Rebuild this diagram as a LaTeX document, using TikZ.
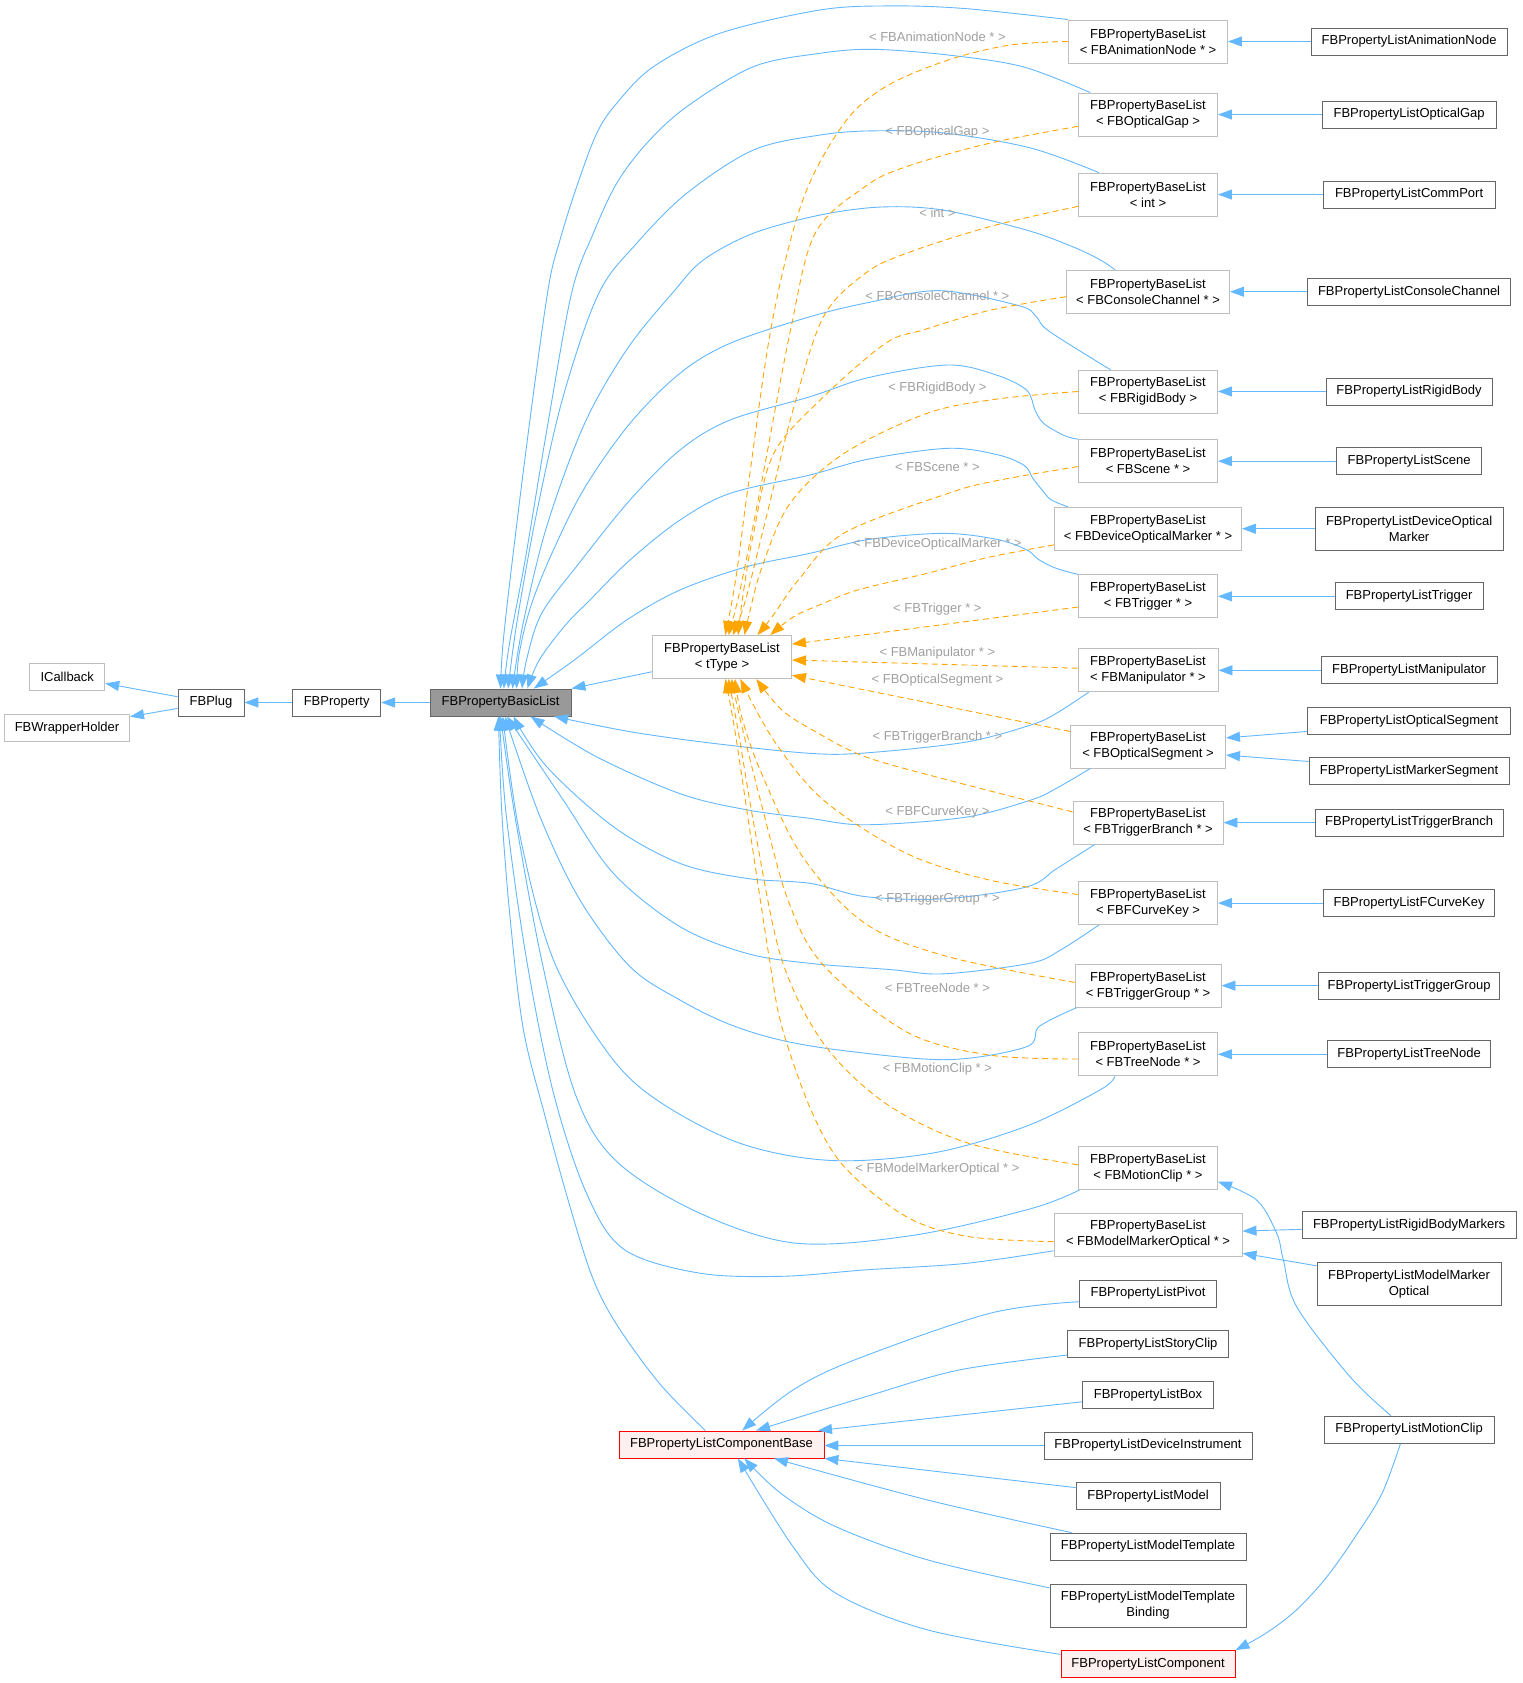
\documentclass[tikz,border=0pt]{standalone}
\usepackage{fontspec}
\setmainfont{Liberation Sans}
\usetikzlibrary{arrows.meta,calc}
\definecolor{eblue}{HTML}{63B8FF}
\definecolor{eorange}{HTML}{FFA500}
\definecolor{lgray}{HTML}{BFBFBF}
\definecolor{dgray}{HTML}{666666}
\definecolor{basicfill}{HTML}{999999}
\definecolor{redb}{HTML}{FF0000}
\definecolor{redfill}{HTML}{FFF0F0}
\definecolor{lbltext}{HTML}{A0A0A0}
\newcommand\fsz{\fontsize{13pt}{16pt}\selectfont}
\tikzset{
 nb/.style={draw=#1, fill=white, line width=0.9pt, minimum height=27pt, inner xsep=3pt, inner ysep=2pt, align=center, font=\fsz},
 gbox/.style={nb=lgray},
 dbox/.style={nb=dgray},
 rbox/.style={nb=redb, fill=redfill},
 tbox/.style={nb=lgray, minimum height=43pt},
 dboxt/.style={nb=dgray, minimum height=43pt},
 inh/.style={draw=eblue, line width=0.9pt, -{Triangle[length=14pt,width=10pt]}},
 tpl/.style={draw=eorange, line width=0.9pt, dash pattern=on 6pt off 4pt, -{Triangle[length=14pt,width=10pt]}},
 lbl/.style={font=\fsz, text=lbltext, inner sep=0pt},
 sm/.style={smooth, tension=0.55},
}
\begin{document}
\begin{tikzpicture}[x=1.0725pt,y=-1.0725pt]
\useasboundingbox (0,0) rectangle (1419.1,1569.2);
\fill[white] (0,0) rectangle (1419.1,1569.2);

% ---- left chain
\node[gbox, minimum width=75pt] (icb) at (62.7,631.2) {ICallback};
\node[gbox, minimum width=125pt] (wh) at (62.5,678.8) {FBWrapperHolder};
\node[dbox, minimum width=66pt] (plug) at (196.7,655) {FBPlug};
\node[dbox, minimum width=88pt] (prop) at (313.9,655) {FBProperty};
\node[dbox, fill=basicfill, minimum width=141pt] (bl) at (466.7,655) {FBPropertyBasicList};
\node[tbox, minimum width=139pt] (tt) at (673.2,612.6) {FBPropertyBaseList\\< tType >};

% ---- template instances
\node[tbox, minimum width=159pt] (b1) at (1070.4,38.7) {FBPropertyBaseList\\< FBAnimationNode * >};
\node[tbox, minimum width=139pt] (b2) at (1070.4,106.8) {FBPropertyBaseList\\< FBOpticalGap >};
\node[tbox, minimum width=139pt] (b3) at (1070.4,181.4) {FBPropertyBaseList\\< int >};
\node[tbox, minimum width=163pt] (b4) at (1070.4,272) {FBPropertyBaseList\\< FBConsoleChannel * >};
\node[tbox, minimum width=139pt] (b5) at (1070.4,365) {FBPropertyBaseList\\< FBRigidBody >};
\node[tbox, minimum width=139pt] (b6) at (1070.4,430) {FBPropertyBaseList\\< FBScene * >};
\node[tbox, minimum width=187pt] (b7) at (1070.4,493) {FBPropertyBaseList\\< FBDeviceOpticalMarker * >};
\node[tbox, minimum width=139pt] (b8) at (1070.4,556) {FBPropertyBaseList\\< FBTrigger * >};
\node[tbox, minimum width=140pt] (b9) at (1070.4,625) {FBPropertyBaseList\\< FBManipulator * >};
\node[tbox, minimum width=155pt] (b10) at (1070.4,696) {FBPropertyBaseList\\< FBOpticalSegment >};
\node[tbox, minimum width=150pt] (b11) at (1070.4,767) {FBPropertyBaseList\\< FBTriggerBranch * >};
\node[tbox, minimum width=139pt] (b12) at (1070.4,842) {FBPropertyBaseList\\< FBFCurveKey >};
\node[tbox, minimum width=146pt] (b13) at (1070.4,919) {FBPropertyBaseList\\< FBTriggerGroup * >};
\node[tbox, minimum width=139pt] (b14) at (1070.4,983) {FBPropertyBaseList\\< FBTreeNode * >};
\node[tbox, minimum width=139pt] (b15) at (1070.4,1089) {FBPropertyBaseList\\< FBMotionClip * >};
\node[tbox, minimum width=188pt] (b16) at (1070.4,1151) {FBPropertyBaseList\\< FBModelMarkerOptical * >};

% ---- right column
\node[dbox, minimum width=196pt] (l1) at (1313.8,38.7) {FBPropertyListAnimationNode};
\node[dbox, minimum width=174pt] (l2) at (1313.8,106.8) {FBPropertyListOpticalGap};
\node[dbox, minimum width=172pt] (l3) at (1313.8,181.4) {FBPropertyListCommPort};
\node[dbox, minimum width=203pt] (l4) at (1313.8,272) {FBPropertyListConsoleChannel};
\node[dbox, minimum width=166pt] (l5) at (1313.8,365) {FBPropertyListRigidBody};
\node[dbox, minimum width=145pt] (l6) at (1313.8,430) {FBPropertyListScene};
\node[dboxt, minimum width=188pt] (l7) at (1313.8,493) {FBPropertyListDeviceOptical\\Marker};
\node[dbox, minimum width=148pt] (l8) at (1313.8,556) {FBPropertyListTrigger};
\node[dbox, minimum width=176pt] (l9) at (1313.8,625) {FBPropertyListManipulator};
\node[dbox, minimum width=203pt] (l10a) at (1313.8,672) {FBPropertyListOpticalSegment};
\node[dbox, minimum width=200pt] (l10b) at (1313.8,719) {FBPropertyListMarkerSegment};
\node[dbox, minimum width=188pt] (l11) at (1313.8,767) {FBPropertyListTriggerBranch};
\node[dbox, minimum width=171pt] (l12) at (1313.8,842) {FBPropertyListFCurveKey};
\node[dbox, minimum width=181pt] (l13) at (1313.8,919) {FBPropertyListTriggerGroup};
\node[dbox, minimum width=163pt] (l14) at (1313.8,983) {FBPropertyListTreeNode};
\node[dbox, minimum width=214pt] (l16a) at (1313.8,1142.2) {FBPropertyListRigidBodyMarkers};
\node[dboxt, minimum width=184pt] (l16b) at (1313.8,1197.2) {FBPropertyListModelMarker\\Optical};
\node[dbox, minimum width=170pt] (lmc) at (1313.8,1332.9) {FBPropertyListMotionClip};

% ---- bottom column
\node[rbox, minimum width=205pt] (cb) at (672.7,1346.8) {FBPropertyListComponentBase};
\node[dbox, minimum width=137pt] (pv) at (1070.4,1206) {FBPropertyListPivot};
\node[dbox, minimum width=161pt] (sc) at (1070.4,1253) {FBPropertyListStoryClip};
\node[dbox, minimum width=131pt] (bx) at (1070.4,1300.7) {FBPropertyListBox};
\node[dbox, minimum width=208pt] (di) at (1070.4,1347.8) {FBPropertyListDeviceInstrument};
\node[dbox, minimum width=144pt] (md) at (1070.4,1394.9) {FBPropertyListModel};
\node[dbox, minimum width=196pt] (mt) at (1070.4,1442) {FBPropertyListModelTemplate};
\node[dboxt, minimum width=196pt] (mtb) at (1070.4,1497) {FBPropertyListModelTemplate\\Binding};
\node[rbox, minimum width=174pt] (cmp) at (1070.4,1551.5) {FBPropertyListComponent};

% ---- simple edges
\draw[inh] ($(plug.west)+(0,-5.4)$) -- ($(icb.east)+(0,6)$);
\draw[inh] ($(plug.west)+(0,5.5)$) -- ($(wh.east)+(0,-10.6)$);
\draw[inh] (prop) -- (plug);
\draw[inh] (bl) -- (prop);
\draw[inh] ($(tt.west)+(0,13.7)$) -- (bl.north east);

% leaf -> template
\draw[inh] (l1) -- (b1);
\draw[inh] (l2) -- (b2);
\draw[inh] (l3) -- (b3);
\draw[inh] (l4) -- (b4);
\draw[inh] (l5) -- (b5);
\draw[inh] (l6) -- (b6);
\draw[inh] (l7) -- (b7);
\draw[inh] (l8) -- (b8);
\draw[inh] (l9) -- (b9);
\draw[inh] ($(l10a.west)+(0,10)$) -- ($(b10.east)+(0,-8)$);
\draw[inh] ($(l10b.west)+(0,-9)$) -- ($(b10.east)+(0,8)$);
\draw[inh] (l11) -- (b11);
\draw[inh] (l12) -- (b12);
\draw[inh] (l13) -- (b13);
\draw[inh] (l14) -- (b14);
\draw[inh] ($(l16a.west)+(0,4)$) -- ($(b16.east)+(0,-3.2)$);
\draw[inh] ($(l16b.west)+(0,-17)$) -- ($(b16.east)+(0,17.5)$);
\draw[inh] plot[sm] coordinates {($(lmc.north)+(-17,0)$) (1258.7,1283.6) (1209,1218.4) (1196.6,1174.8) (1190.4,1150) (1171.7,1118.9) ($(b15.east)+(0,12.8)$)};
\draw[inh] plot[sm] coordinates {($(lmc.south)+(-8,0)$) (1288.6,1392.4) (1265.7,1429.7) (1237.2,1470.1) (1208.6,1501.2) (1180,1523) (cmp.north east)};

% bottom column -> component base
\draw[inh] plot[sm] coordinates {($(pv.west)+(0,7.7)$) (922.5,1224.6) (796.7,1268) (739.4,1296) ($(cb.north)+(19.3,0)$)};
\draw[inh] plot[sm] coordinates {($(sc.west)+(0,10.4)$) (894,1277.4) (808,1302) ($(cb.north)+(32.3,0)$)};
\draw[inh] ($(bx.west)+(0,6.3)$) -- ($(cb.north east)+(-6,0)$);
\draw[inh] (di.west) -- (di.west -| cb.east);
\draw[inh] ($(md.west)+(0,-7.9)$) -- (cb.south east);
\draw[inh] plot[sm] coordinates {($(mt.north west)+(20.5,0)$) (865,1398.6) ($(cb.south)+(49,0)$)};
\draw[inh] plot[sm] coordinates {($(mtb.north west)+(0,4)$) (865.3,1454.5) (779.5,1423.5) (728.1,1392.4) ($(cb.south)+(21.3,0)$)};
\draw[inh] plot[sm] coordinates {($(cmp.north west)+(0,4)$) (865.3,1519.8) (779.5,1485.6) (739.4,1442.1) ($(cb.south)+(15.3,0)$)};

% ---- template -> basic list (blue)
\draw[inh] plot[sm] coordinates {(b1.north west) (900,8) (830,5.5) (764.6,9.3) (671.3,31) (609.2,62.2) (575,96.3) (556.4,124.3) (537.7,174) (522.1,223.8) (511,270) (493,400) (478,520) (469,600) ($(bl.north)+(0,0)$)};
\draw[inh] plot[sm] coordinates {($(b2.north west)+(11.4,0)$) (953.5,62.2) (884,51.3) (814,46) (764.6,49.7) (702.4,62.2) (640.3,99.5) (603,133.6) (575,170.9) (553.2,217.5) (533,273) (510,400) (490,520) (475,600) ($(bl.north)+(3,0)$)};
\draw[inh] plot[sm] coordinates {($(b3.north west)+(19.4,0)$) (961,138) (880,124) (814,122) (764.6,125.9) (702.4,139.9) (640.3,180.2) (593.6,226.9) (558,274) (525,370) (500,480) (482,580) ($(bl.north)+(7,0)$)};
\draw[inh] plot[sm] coordinates {($(b4.north west)+(45.6,0)$) (1026,242.4) (1000,230) (957,214.5) (880,196) (822,193) (764.6,200.5) (702.4,217.5) (655.8,242.4) (628,272) (585,325) (545,395) (510,490) (488,580) ($(bl.north)+(11,0)$)};
\draw[inh] plot[sm] coordinates {($(b5.north west)+(30.4,0)$) (1026,339) (977,308) (966,295) (950,285) (876,271) (810,282) (755.2,295.3) (680.7,320.1) (634,348) (587.4,394.7) (545,455) (515,515) (495,565) (484,610) ($(bl.north)+(15,0)$)};
\draw[inh] plot[sm] coordinates {(b6.north west) (992,406) (973,394.7) (965,382.3) (957.4,364) (930,350) (884,340.3) (810,352) (755.2,369.9) (680.7,391.6) (634,419.6) (587.4,466.2) (540,525) (505,572) (491,615) ($(bl.north)+(20,0)$)};
\draw[inh] plot[sm] coordinates {($(b7.north west)+(12.8,0)$) (980,466) (972.6,458) (963,446) (955,434) (930,424) (884,418) (810,428) (755.2,442.9) (680.7,460) (634,484.9) (587.4,522.1) (550.1,559.4) (527,583) (503,615) ($(bl.north)+(25,0)$)};
\draw[inh] plot[sm] coordinates {(b8.north west) (985,530) (968.8,522) (957.4,512.8) (930,503) (880,497.3) (810,503) (755.2,515.9) (696.2,528.4) (634,550.1) (584.3,578.1) (536,615) ($(bl.north)+(31,0)$)};
\draw[inh] plot[sm] coordinates {($(b9.south west)+(10.3,0)$) (985,665) (961,676) (900,692) (807,702) (755.2,702.4) (665.1,693.1) (587.4,682.2) ($(bl.south)+(50,0)$)};
\draw[inh] plot[sm] coordinates {($(b10.south west)+(18.9,0)$) (985,735) (961,746) (900,762) (807,769) (755,763) (696,755) (634,740) (556,705.5) ($(bl.south)+(28,0)$)};
\draw[inh] plot[sm] coordinates {($(b11.south west)+(20.5,0)$) (985,810) (957,827) (880,838) (807,836) (755.2,823.6) (696.2,819) (634,805) (571.9,770.8) (509.7,714.8) ($(bl.south)+(12,0)$)};
\draw[inh] plot[sm] coordinates {($(b12.south west)+(19.4,0)$) (990,885) (961,898) (880,908) (830,904) (755.2,898.2) (696.2,888.9) (634,864) (571.9,814.3) (525.2,746) ($(bl.south)+(6,0)$)};
\draw[inh] plot[sm] coordinates {($(b13.south west)+(2,0)$) (969,957) (957,976) (884,988) (790,980) (729,970) (680,955) (634,932.4) (587.4,901.3) (540.8,839.2) (503.5,761.5) ($(bl.south)+(4,0)$)};
\draw[inh] plot[sm] coordinates {($(b14.south west)+(34.4,0)$) (1026,1016) (957,1050) (870,1075) (775,1082) (690,1066) (613,1026) (567,982) (516,895) (485,780) ($(bl.south)+(2,0)$)};
\draw[inh] plot[sm] coordinates {($(b15.south west)+(1.4,0)$) (961,1127) (850,1152) (741,1159) (650,1130) (574,1082) (536,1019) (505,895) (480,760) ($(bl.south)+(0,0)$)};
\draw[inh] plot[sm] coordinates {($(b16.west)+(0,15.2)$) (900,1178) (807,1184) (729,1190) (652,1187) (582,1165) (547,1113) (516,1019) (491,895) (472,760) ($(bl.south)+(-1,0)$)};
\draw[inh] plot[sm] coordinates {($(cb.north)+(-15,0)$) (615,1290) (575,1235) (552,1190) (530,1120) (508,1040) (488,960) (476,860) (468,760) ($(bl.south)+(-2,0)$)};

% ---- template -> tType (orange dashed)
\draw[tpl] plot[sm] coordinates {(b1.west) (941.7,42) (884,56) (825.8,80.8) (787,115) (748.5,186.5) (720,300) (698,450) (686,540) ($(tt.north)+(3,0)$)};
\draw[tpl] plot[sm] coordinates {($(b2.west)+(0,11)$) (922.5,133.6) (845,155.4) (806.6,174) (760,217.5) (737,308) (710,450) (690,550) ($(tt.north)+(6,0)$)};
\draw[tpl] plot[sm] coordinates {($(b3.west)+(0,11)$) (922.5,211.4) (845,236.2) (806.6,255) (767.8,295.3) (740,380) (715,480) (695,560) ($(tt.north)+(10,0)$)};
\draw[tpl] plot[sm] coordinates {($(b4.west)+(0,4.6)$) (922.5,289.4) (860.6,307.7) (825.8,320) (767.8,370) (721.3,423) (702,500) (692,560) ($(tt.north)+(15,0)$)};
\draw[tpl] plot[sm] coordinates {(b5.west) (930,372) (864.3,385.4) (787,422.7) (736.6,469.3) (710,530) (698,575) ($(tt.north)+(21,0)$)};
\draw[tpl] plot[sm] coordinates {($(b6.west)+(0,5)$) (930,448) (884,460) (787,497) (745,540) (720,575) ($(tt.north)+(33,0)$)};
\draw[tpl] plot[sm] coordinates {($(b7.west)+(0,15)$) (920,520) (864.3,534.6) (800,550) (767.8,562.5) (740,575) ($(tt.north)+(45,0)$)};
\draw[tpl] ($(b8.west)+(0,10)$) -- ($(tt.east)+(0,-12)$);
\draw[tpl] ($(b9.west)+(0,-2)$) -- ($(tt.east)+(0,2.8)$);
\draw[tpl] ($(b10.west)+(0,-14)$) -- ($(tt.east)+(0,17)$);
\draw[tpl] plot[sm] coordinates {($(b11.west)+(0,-10)$) (884,727.3) (806.6,705.5) (760,682) (729,662) ($(tt.south)+(32,0)$)};
\draw[tpl] plot[sm] coordinates {($(b12.west)+(0,-8)$) (922.5,820.5) (845,795.6) (767.8,746) (721.3,690) ($(tt.south)+(17,0)$)};
\draw[tpl] plot[sm] coordinates {($(b13.west)+(0,-3)$) (884,892) (806.6,861) (748.5,799) (710,721) (692,670) ($(tt.south)+(12,0)$)};
\draw[tpl] plot[sm] coordinates {($(b14.west)+(0,4.4)$) (922.5,983.7) (845,962) (767.8,900) (735,840) (710,750) (690,670) ($(tt.south)+(9,0)$)};
\draw[tpl] plot[sm] coordinates {($(b15.west)+(0,-3)$) (903.2,1066) (825.8,1028.8) (767.8,972.8) (729,895) (705,780) (688,680) ($(tt.south)+(6,0)$)};
\draw[tpl] plot[sm] coordinates {($(b16.west)+(0,6.7)$) (903.2,1153) (845,1134.4) (787.1,1087.8) (756.2,1035) (729,957.3) (717.5,895) (700,780) (685,680) ($(tt.south)+(3,0)$)};

% ---- template argument labels
\node[lbl] (t1) at (874,34.8) {< FBAnimationNode * >};
\node[lbl] (t2) at (874,123.4) {< FBOpticalGap >};
\node[lbl] (t3) at (874,198.9) {< int >};
\node[lbl] (t4) at (874,276) {< FBConsoleChannel * >};
\node[lbl] (t5) at (874,362) {< FBRigidBody >};
\node[lbl] (t6) at (874,435.7) {< FBScene * >};
\node[lbl] (t7) at (874,507.5) {< FBDeviceOpticalMarker * >};
\node[lbl] (t8) at (874,568) {< FBTrigger * >};
\node[lbl] (t9) at (874,609) {< FBManipulator * >};
\node[lbl] (t10) at (874,634) {< FBOpticalSegment >};
\node[lbl] (t11) at (874,687.5) {< FBTriggerBranch * >};
\node[lbl] (t12) at (874,757.4) {< FBFCurveKey >};
\node[lbl] (t13) at (874,838.2) {< FBTriggerGroup * >};
\node[lbl] (t14) at (874,921.5) {< FBTreeNode * >};
\node[lbl] (t15) at (874,996.7) {< FBMotionClip * >};
\node[lbl] (t16) at (874,1090.3) {< FBModelMarkerOptical * >};
\end{tikzpicture}
\end{document}
